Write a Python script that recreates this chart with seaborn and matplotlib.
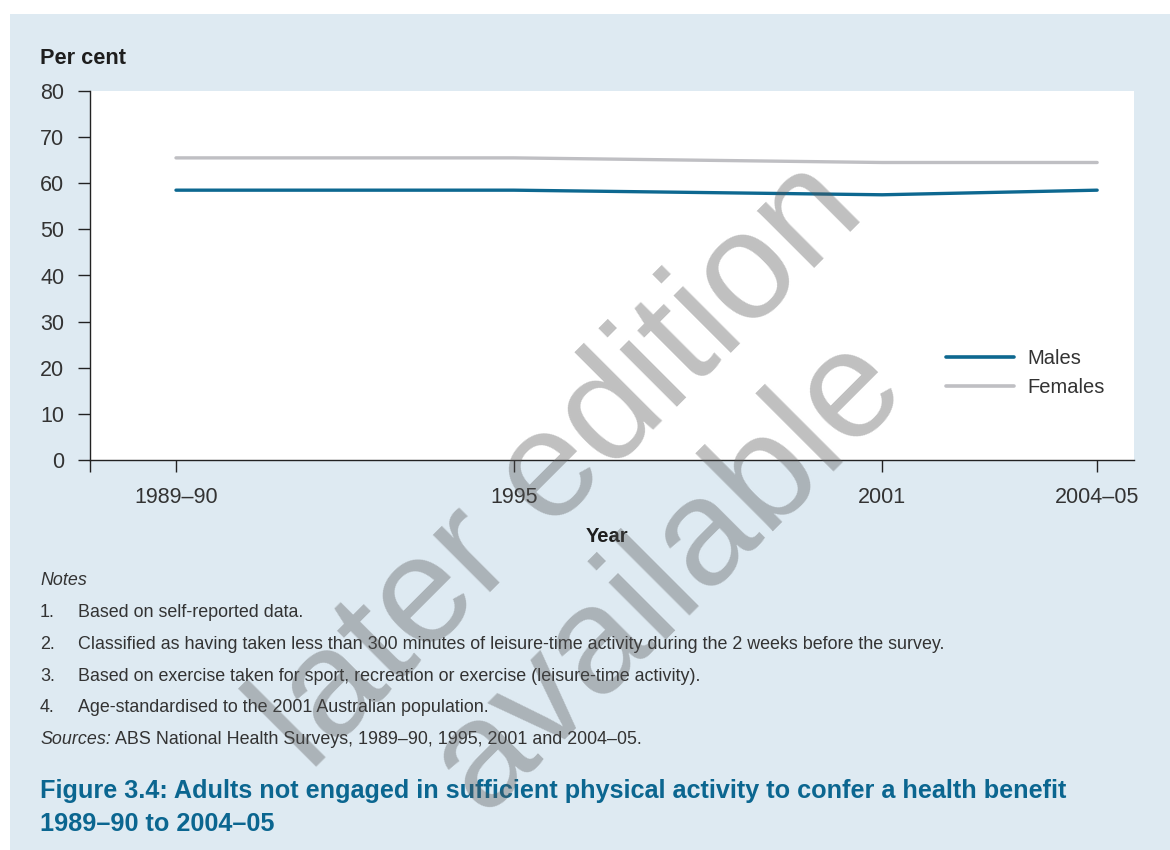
import matplotlib
matplotlib.use("Agg")
import matplotlib.pyplot as plt
import seaborn as sns
import pandas as pd
from matplotlib.patches import Rectangle
from matplotlib.lines import Line2D

# ---- data ----
year_labels = ["1989–90", "1995", "2001", "2004–05"]
year_pos = [1989.5, 1995, 2001, 2004.5]
males = [58.5, 58.5, 57.5, 58.5]
females = [65.5, 65.5, 64.5, 64.5]
y_ticks = [0, 10, 20, 30, 40, 50, 60, 70, 80]
notes = [
    "Based on self-reported data.",
    "Classified as having taken less than 300 minutes of leisure-time activity during the 2 weeks before the survey.",
    "Based on exercise taken for sport, recreation or exercise (leisure-time activity).",
    "Age-standardised to the 2001 Australian population.",
]
sources_rest = " ABS National Health Surveys, 1989–90, 1995, 2001 and 2004–05."
title_lines = ["Figure 3.4: Adults not engaged in sufficient physical activity to confer a health benefit",
               "1989–90 to 2004–05"]

df = pd.DataFrame({
    "Year": year_pos * 2,
    "Per cent": males + females,
    "Sex": ["Males"] * len(males) + ["Females"] * len(females),
})

sns.set_theme(style="white")
plt.rcParams["font.family"] = ["Liberation Sans", "DejaVu Sans"]

W, H = 1170, 850
fig = plt.figure(figsize=(W / 100, H / 100), dpi=100)
fig.patch.set_facecolor("white")
BG = "#deeaf2"
fig.patches.append(Rectangle((10 / W, 0), 1 - 10 / W, (H - 14) / H,
                             transform=fig.transFigure, facecolor=BG,
                             edgecolor="none", zorder=-10))

def fx(px):
    return px / W

def fy(py):
    return 1 - py / H

ax = fig.add_axes([fx(90), fy(460), fx(1134) - fx(90), fy(91) - fy(460)])
ax.set_facecolor("white")

palette = {"Males": "#0d6890", "Females": "#bfbfc3"}
sns.lineplot(data=df, x="Year", y="Per cent", hue="Sex", palette=palette,
             linewidth=2.4, ax=ax, legend=False, sort=False)

xl, xr = 1988.1, 2005.1
ax.set_xlim(xl, xr)
ax.set_ylim(0, 80)
ax.set_xticks([xl] + year_pos)
ax.set_xticklabels([""] + year_labels)
ax.set_yticks(y_ticks)
ax.set_yticklabels([str(v) for v in y_ticks])
for s in ["top", "right"]:
    ax.spines[s].set_visible(False)
for s in ["left", "bottom"]:
    ax.spines[s].set_color("#222222")
    ax.spines[s].set_linewidth(1.0)
ax.tick_params(axis="both", which="major", direction="out", length=8.6,
               width=1.0, color="#222222", labelsize=15.5, labelcolor="#333333",
               bottom=True, left=True)
ax.tick_params(axis="x", pad=10.8)
ax.tick_params(axis="y", pad=10)
ax.set_xlabel("")
ax.set_ylabel("")

# legend
handles = [Line2D([0], [0], color=palette["Males"], lw=2.6),
           Line2D([0], [0], color=palette["Females"], lw=2.6)]
leg = fig.legend(handles, ["Males", "Females"], loc="center left",
                 bbox_to_anchor=(fx(946), fy(373)), bbox_transform=fig.transFigure,
                 frameon=False, fontsize=14.5, handlelength=3.4, handletextpad=0.65,
                 labelspacing=0.5, borderpad=0, borderaxespad=0)
for t in leg.get_texts():
    t.set_color("#333333")

# axis titles
fig.text(fx(40), fy(59), "Per cent", fontsize=15.7, fontweight="bold",
         color="#1e1e1e", ha="left", va="center")
fig.text(fx(607), fy(536), "Year", fontsize=14.5, fontweight="bold",
         color="#1e1e1e", ha="center", va="center")

# notes
note_color = "#333333"
NFS = 12.9
fig.text(fx(40), fy(585), "Notes", fontsize=NFS, style="italic",
         color=note_color, ha="left", va="baseline")
for i, (n, yy) in enumerate(zip(notes, [617, 649, 681, 712])):
    fig.text(fx(40), fy(yy), f"{i + 1}.", fontsize=NFS, color=note_color,
             ha="left", va="baseline")
    fig.text(fx(78), fy(yy), n, fontsize=NFS, color=note_color,
             ha="left", va="baseline")
src = fig.text(fx(40), fy(744), "Sources:", fontsize=NFS, style="italic",
               color=note_color, ha="left", va="baseline")
fig.canvas.draw()
bb = src.get_window_extent(renderer=fig.canvas.get_renderer())
fig.text(bb.x1 / W, fy(744), sources_rest, fontsize=NFS, color=note_color,
         ha="left", va="baseline")

# title
title_color = "#0b6690"
TFS = 18.15
fig.text(fx(40), fy(798), title_lines[0], fontsize=TFS, fontweight="bold",
         color=title_color, ha="left", va="baseline")
fig.text(fx(40), fy(831), title_lines[1], fontsize=TFS, fontweight="bold",
         color=title_color, ha="left", va="baseline")

# watermark
fig.text(fx(614), fy(520), "later edition\navailable", fontsize=110,
         rotation=45, rotation_mode="anchor", ha="center", va="center",
         multialignment="center", color="#545454", alpha=0.37,
         linespacing=1.1, zorder=50)

fig.savefig("out.png", dpi=100, facecolor=fig.get_facecolor())
